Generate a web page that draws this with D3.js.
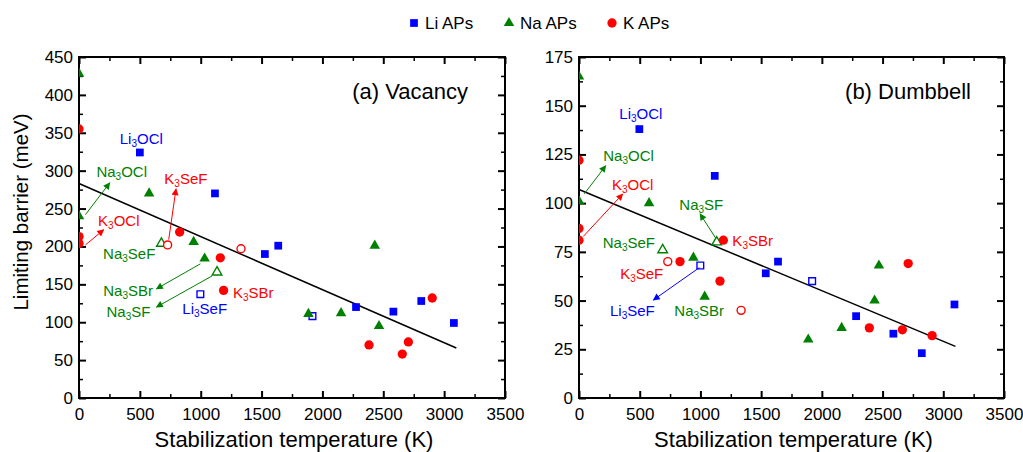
<!DOCTYPE html>
<html>
<head>
<meta charset="utf-8">
<script src="https://d3js.org/d3.v7.min.js"></script>
<style>
body { margin: 0; background: #fff; }
text { font-family: "Liberation Sans", Arial, sans-serif; }
</style>
</head>
<body>
<svg id="chart" width="1023" height="452"></svg>
<script>
// ---- data: [temperature K, barrier meV] ----
var liA     = [[500,324],[1117,270],[1527,190],[1637,201],[2276,120],[2583,114],[2812,128],[3080,99]];
var liAOpen = [[997,137],[1918,108]];
var naA     = [[0,428],[0,240],[576,270],[942,206],[1032,184],[1885,111],[2153,112],[2430,201],[2465,95]];
var naAOpen = [[677,204],[1134,166]];
var kA      = [[0,355],[0,213],[0,204],[827,219],[1161,185],[1188,142],[2383,70],[2656,58],[2706,74],[2902,132]];
var kAOpen  = [[728,202],[1331,197]];

var liB     = [[497,138],[1118,114],[1538,64],[1639,70],[2282,42],[2589,33],[2823,23],[3092,48]];
var liBOpen = [[999,68],[1920,60]];
var naB     = [[0,165],[0,101],[577,100],[942,72],[1035,52],[1888,30],[2163,36],[2434,50],[2470,68]];
var naBOpen = [[689,76],[1134,80]];
var kB      = [[0,122],[0,87],[0,81],[832,70],[1161,60],[1189,81],[2391,36],[2663,35],[2711,69],[2908,32]];
var kBOpen  = [[731,70],[1335,45]];

// linear fits (end points)
var fitX = [0, 3100];
var fitA = [283, 66];
var fitB = [107, 26.5];

var xTicks = [0,500,1000,1500,2000,2500,3000,3500];
var yTicksA = [0,50,100,150,200,250,300,350,400,450];
var yTicksB = [0,25,50,75,100,125,150,175];

// labels: text, x, y (data units), colour key, anchor
var labelsA = [
  ["Li3OCl", 335, 335, "li", "start"],
  ["Na3OCl", 143, 292, "na", "start"],
  ["K3OCl", 157, 227, "k", "start"],
  ["K3SeF", 701, 283, "k", "start"],
  ["Na3SeF", 627, 183, "na", "end"],
  ["Na3SBr", 608, 135, "na", "end"],
  ["Na3SF", 587, 107, "na", "end"],
  ["Li3SeF", 849, 111, "li", "start"],
  ["K3SBr", 1265, 132, "k", "start"]
];
var arrowsA = [
  [53, 242, 253, 284, "na"],
  [53, 202, 203, 222, "k"],
  [737, 209, 797, 276, "k"],
  [997, 177, 636, 144, "na"],
  [1093, 161, 636, 120, "na"]
];
var labelsB = [
  ["Li3OCl", 332, 143, "li", "start"],
  ["Na3OCl", 200, 121.8, "na", "start"],
  ["K3OCl", 272, 106.9, "k", "start"],
  ["Na3SF", 826, 96.6, "na", "start"],
  ["K3SBr", 1263, 78.1, "k", "start"],
  ["Na3SeF", 626, 77.1, "na", "end"],
  ["K3SeF", 694, 61.1, "k", "end"],
  ["Li3SeF", 255, 42.1, "li", "start"],
  ["Na3SBr", 785, 42.1, "na", "start"]
];
var arrowsB = [
  [44, 104.8, 220, 119.2, "na"],
  [35, 82.9, 360, 104.7, "k"],
  [1126, 82, 997, 94.5, "na"],
  [991, 66.9, 612, 50.3, "li"]
];

var colors = { li: "#0000ff", na: "#008000", k: "#ff0000" };

var svg = d3.select("#chart");

// arrow heads
var defs = svg.append("defs");
Object.keys(colors).forEach(function(k) {
  defs.append("marker")
    .attr("id", "arr-" + k)
    .attr("viewBox", "0 0 10 10")
    .attr("refX", 9).attr("refY", 5)
    .attr("markerWidth", 9).attr("markerHeight", 7)
    .attr("markerUnits", "userSpaceOnUse")
    .attr("orient", "auto")
    .append("path")
    .attr("d", "M0,0 L10,5 L0,10 z")
    .attr("fill", colors[k]);
});

function drawPanel(opt) {
  var x = d3.scaleLinear().domain([0, 3500]).range([opt.left, opt.right]);
  var y = d3.scaleLinear().domain([0, opt.ymax]).range([398, 57]);

  var clipId = "clip-" + opt.id;
  defs.append("clipPath").attr("id", clipId)
    .append("rect")
    .attr("x", opt.left).attr("y", 57)
    .attr("width", opt.right - opt.left).attr("height", 341);

  var g = svg.append("g");

  // minor ticks
  var xMinor = d3.range(250, 3500, 500);
  var yMinor = d3.range(opt.ymin / 2, opt.ymax, opt.ymin);
  var minor = g.append("g").attr("class", "minor");
  minor.append("g").attr("transform", "translate(0,398)")
    .call(d3.axisBottom(x).tickValues(xMinor).tickSize(-4).tickFormat(""));
  minor.append("g").attr("transform", "translate(0,57)")
    .call(d3.axisTop(x).tickValues(xMinor).tickSize(-4).tickFormat(""));
  minor.append("g").attr("transform", "translate(" + opt.left + ",0)")
    .call(d3.axisLeft(y).tickValues(yMinor).tickSize(-4).tickFormat(""));
  minor.append("g").attr("transform", "translate(" + opt.right + ",0)")
    .call(d3.axisRight(y).tickValues(yMinor).tickSize(-4).tickFormat(""));

  // major ticks
  var major = g.append("g").attr("class", "major");
  major.append("g").attr("transform", "translate(0,398)")
    .call(d3.axisBottom(x).tickValues(xTicks).tickSize(-7).tickPadding(10).tickFormat(d3.format("d")));
  major.append("g").attr("transform", "translate(0,57)")
    .call(d3.axisTop(x).tickValues(xTicks).tickSize(-7).tickFormat(""));
  major.append("g").attr("transform", "translate(" + opt.left + ",0)")
    .call(d3.axisLeft(y).tickValues(opt.yTicks).tickSize(-7).tickPadding(6).tickFormat(d3.format("d")));
  major.append("g").attr("transform", "translate(" + opt.right + ",0)")
    .call(d3.axisRight(y).tickValues(opt.yTicks).tickSize(-7).tickFormat(""));

  g.selectAll(".domain").remove();
  minor.selectAll(".tick line").attr("stroke", "#000").attr("stroke-width", 1.5);
  major.selectAll(".tick line").attr("stroke", "#000").attr("stroke-width", 2);
  g.selectAll(".tick text").attr("font-size", 17).attr("fill", "#000")
    .attr("font-family", "'Liberation Sans', Arial, sans-serif");

  // frame
  g.append("rect")
    .attr("x", opt.left).attr("y", 57)
    .attr("width", opt.right - opt.left).attr("height", 341)
    .attr("fill", "none").attr("stroke", "#000").attr("stroke-width", 2);

  // fit line
  var line = d3.line().x(function(d) { return x(d[0]); }).y(function(d) { return y(d[1]); });
  g.append("path")
    .datum(fitX.map(function(v, i) { return [v, opt.fit[i]]; }))
    .attr("d", line).attr("fill", "none").attr("stroke", "#000").attr("stroke-width", 1.5);

  var pts = g.append("g").attr("clip-path", "url(#" + clipId + ")");
  var sym = {
    li: d3.symbol().type(d3.symbolSquare),
    na: d3.symbol().type(d3.symbolTriangle),
    k: d3.symbol().type(d3.symbolCircle)
  };
  var sizes = { li: 60, na: 48, k: 68 };
  var openSizes = { li: 45, na: 40, k: 50 };

  function plot(data, key, open) {
    pts.selectAll(null).data(data).enter().append("path")
      .attr("transform", function(d) { return "translate(" + x(d[0]) + "," + y(d[1]) + ")"; })
      .attr("d", sym[key].size(open ? openSizes[key] : sizes[key]))
      .attr("fill", open ? "#fff" : colors[key])
      .attr("stroke", colors[key])
      .attr("stroke-width", open ? 1.4 : 0);
  }
  plot(opt.li, "li", false); plot(opt.liOpen, "li", true);
  plot(opt.na, "na", false); plot(opt.naOpen, "na", true);
  plot(opt.k, "k", false);   plot(opt.kOpen, "k", true);

  // arrows
  g.selectAll(null).data(opt.arrows).enter().append("line")
    .attr("x1", function(d) { return x(d[0]); })
    .attr("y1", function(d) { return y(d[1]); })
    .attr("x2", function(d) { return x(d[2]); })
    .attr("y2", function(d) { return y(d[3]); })
    .attr("stroke", function(d) { return colors[d[4]]; })
    .attr("stroke-width", 1)
    .attr("marker-end", function(d) { return "url(#arr-" + d[4] + ")"; });

  // compound labels with subscript digits
  opt.labels.forEach(function(l) {
    var t = g.append("text")
      .attr("x", x(l[1])).attr("y", y(l[2]))
      .attr("text-anchor", l[4])
      .attr("font-size", 15)
      .attr("fill", colors[l[3]]);
    var m = l[0].match(/^([A-Za-z]+)(\d)(.*)$/);
    t.append("tspan").text(m[1]);
    t.append("tspan").attr("font-size", 10).attr("dy", 3).text(m[2]);
    t.append("tspan").attr("dy", -3).text(m[3]);
  });

  // panel title
  g.append("text")
    .attr("x", opt.titleX).attr("y", 99)
    .attr("text-anchor", "end")
    .attr("font-size", 22)
    .attr("fill", "#000")
    .text(opt.title);

  // x axis title
  g.append("text")
    .attr("x", (opt.left + opt.right) / 2 + 2).attr("y", 447)
    .attr("text-anchor", "middle")
    .attr("font-size", 22)
    .attr("fill", "#000")
    .text("Stabilization temperature (K)");
}

drawPanel({
  id: "a", left: 79, right: 505, ymax: 450, ymin: 50, yTicks: yTicksA, fit: fitA,
  li: liA, liOpen: liAOpen, na: naA, naOpen: naAOpen, k: kA, kOpen: kAOpen,
  labels: labelsA, arrows: arrowsA, title: "(a) Vacancy", titleX: 468
});
drawPanel({
  id: "b", left: 579, right: 1004, ymax: 175, ymin: 25, yTicks: yTicksB, fit: fitB,
  li: liB, liOpen: liBOpen, na: naB, naOpen: naBOpen, k: kB, kOpen: kBOpen,
  labels: labelsB, arrows: arrowsB, title: "(b) Dumbbell", titleX: 971
});

// y axis title
svg.append("text")
  .attr("transform", "translate(28,212) rotate(-90)")
  .attr("text-anchor", "middle")
  .attr("font-size", 20.5)
  .attr("fill", "#000")
  .text("Limiting barrier (meV)");

// legend
var legendItems = [["Li APs", "li", d3.symbolSquare, 414], ["Na APs", "na", d3.symbolTriangle, 509], ["K APs", "k", d3.symbolCircle, 612]];
var legendSizes = { li: 60, na: 48, k: 68 };
var lg = svg.append("g");
legendItems.forEach(function(it) {
  lg.append("path")
    .attr("transform", "translate(" + it[3] + ",23)")
    .attr("d", d3.symbol().type(it[2]).size(legendSizes[it[1]]))
    .attr("fill", colors[it[1]]);
  lg.append("text")
    .attr("x", it[3] + 11).attr("y", 29)
    .attr("font-size", 17)
    .attr("fill", "#000")
    .text(it[0]);
});
</script>
</body>
</html>
